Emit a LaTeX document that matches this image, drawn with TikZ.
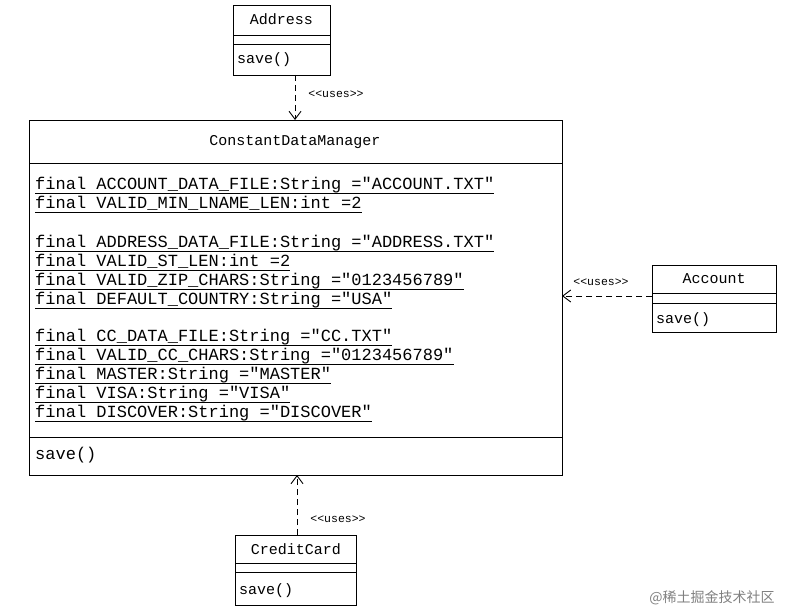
\documentclass[tikz,border=0pt]{standalone}
\usepackage{fontspec}
\setmainfont{Liberation Mono}[Ligatures=TeXOff]
\newfontfamily\cjk{Noto Sans CJK SC}
\usetikzlibrary{arrows.meta}
\begin{document}
\begin{tikzpicture}[x=1pt,y=-1pt,
  box/.style={draw,line width=0.9pt},
  t/.style={font=\fontsize{15}{16}\selectfont,inner sep=0pt},
  a/.style={font=\fontsize{17}{18}\selectfont,inner sep=0pt,anchor=base west},
  lab/.style={font=\fontsize{11.5}{12}\selectfont,inner sep=0pt},
  dep/.style={dashed,dash pattern=on 6pt off 4pt,line width=0.9pt,-{Straight Barb[length=8pt,width=12pt]}}]
\useasboundingbox (0,0) rectangle (789,615);
% Address
\draw[box] (233,5) rectangle (330,75);
\draw[box] (233,35) -- (330,35) (233,44) -- (330,44);
\node[t] (adt) at (281.5,19) {Address};
\node[t,anchor=base west] at (237,64) {save()};
\coordinate (adb) at (295,75);
% CDM
\draw[box] (29,120) rectangle (562,475);
\draw[box] (29,163) -- (562,163) (29,437) -- (562,437);
\node[t] at (295,142) {ConstantDataManager};
\coordinate (cdt) at (295,120);
\coordinate (cdr) at (562,296);
\coordinate (cdb) at (297,475);
\foreach \y/\s in {189/{final ACCOUNT\_DATA\_FILE:String ="ACCOUNT.TXT"},
  208/{final VALID\_MIN\_LNAME\_LEN:int =2},
  247/{final ADDRESS\_DATA\_FILE:String ="ADDRESS.TXT"},
  266/{final VALID\_ST\_LEN:int =2},
  285/{final VALID\_ZIP\_CHARS:String ="0123456789"},
  304/{final DEFAULT\_COUNTRY:String ="USA"},
  341/{final CC\_DATA\_FILE:String ="CC.TXT"},
  360/{final VALID\_CC\_CHARS:String ="0123456789"},
  379/{final MASTER:String ="MASTER"},
  398/{final VISA:String ="VISA"},
  417/{final DISCOVER:String ="DISCOVER"}}
  {\node[a] (n) at (35,\y) {\s};
   \draw[line width=0.8pt] (n.base west)++(0,4) -- ([yshift=-4pt]n.base east);}
\node[a] at (35,459) {save()};
% Account
\draw[box] (652,265) rectangle (776,332);
\draw[box] (652,293) -- (776,293) (652,303) -- (776,303);
\node[t] at (714,279) {Account};
\node[t,anchor=base west] at (656,323) {save()};
\coordinate (acl) at (652,296);
% CreditCard
\draw[box] (235,535) rectangle (356,605);
\draw[box] (235,563) -- (356,563) (235,572) -- (356,572);
\node[t] at (296,549) {CreditCard};
\node[t,anchor=base west] at (239,594) {save()};
\coordinate (cct) at (297,535);
% arrows
\draw[dep] (adb) -- (cdt);
\node[lab] at (336,94) {<<uses>>};
\draw[dep] (acl) -- (cdr);
\node[lab] at (601,282) {<<uses>>};
\draw[dep] (cct) -- (cdb);
\node[lab] at (338,519) {<<uses>>};
\node[font=\cjk\fontsize{14}{15}\selectfont,text=gray,inner sep=0pt] at (712,598) {@稀土掘金技术社区};
\end{tikzpicture}
\end{document}
